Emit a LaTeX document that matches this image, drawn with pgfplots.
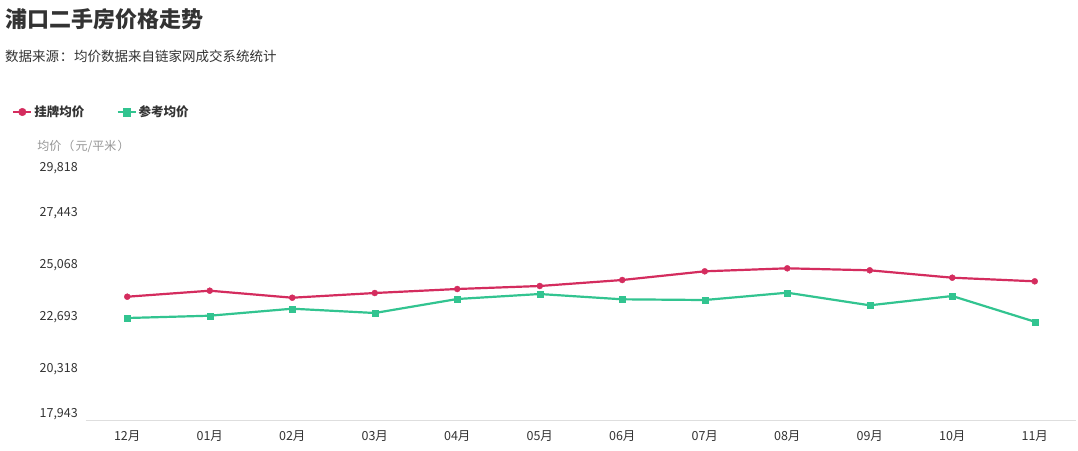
\documentclass[border=0pt]{standalone}
\usepackage{fontspec}
\setmainfont{Noto Sans CJK SC}
\usepackage{pgfplots}
\usepackage{pgfplotstable}
\pgfplotsset{compat=1.18}

\definecolor{cred}{RGB}{212,44,94}
\definecolor{cgreen}{RGB}{50,196,144}
\definecolor{ctext}{RGB}{51,51,51}
\definecolor{cgray}{RGB}{150,150,150}
\definecolor{caxis}{RGB}{222,222,222}

% month index, listing price, reference price
\pgfplotstableread{
m list ref
0  23574 22601
1  23848 22706
2  23528 23026
3  23743 22830
4  23926 23469
5  24063 23697
6  24337 23455
7  24734 23423
8  24871 23757
9  24780 23181
10 24442 23606
11 24277 22432
}\pricedata

\begin{document}
\begin{tikzpicture}[x=1pt,y=1pt]
  \useasboundingbox[fill=white] (0,0) rectangle (1078,450);

  % title and source line
  \node[anchor=west, inner sep=0pt, text=ctext,
        font=\fontsize{22}{26}\selectfont\bfseries] at (5,431) {浦口二手房价格走势};
  \node[anchor=west, inner sep=0pt, text=ctext,
        font=\fontsize{13.5}{16}\selectfont] at (5,394) {数据来源\makebox[1.1em]{：}均价数据来自链家网成交系统统计};

  \begin{axis}[
      at={(86pt,30pt)}, anchor=south west,
      scale only axis, width=990pt, height=260pt,
      xmin=-0.5, xmax=11.5, ymin=17943, ymax=29818,
      scaled y ticks=false,
      axis x line*=bottom, axis y line*=left,
      x axis line style={draw=caxis, line width=0.8pt},
      y axis line style={draw=none},
      xtick={0,...,11},
      xticklabels={12月,01月,02月,03月,04月,05月,06月,07月,08月,09月,10月,11月},
      major x tick style={draw=none},
      extra x ticks={-0.5,0.5,...,11.5},
      extra x tick labels={},
      extra x tick style={tick align=outside, major tick length=4pt,
                          tick style={draw=caxis, line width=0.6pt}},
      xticklabel style={anchor=center, yshift=-16pt, text=ctext,
                        font=\fontsize{12.5}{14}\selectfont},
      ytick={17943,20318,22693,25068,27443,29818},
      yticklabels={{\raisebox{7pt}{17,943}},{20,318},{22,693},{25,068},{27,443},{\raisebox{-7pt}{29,818}}},
      major y tick style={draw=none},
      yticklabel style={anchor=base east, inner sep=0pt, xshift=-8pt, yshift=-4.4pt,
                        text=ctext, font=\fontsize{12.5}{14}\selectfont},
      clip=false,
      legend columns=2,
      legend style={at={(axis description cs:-0.0747,1.1846)}, anchor=west,
                    draw=none, fill=none, inner sep=0pt,
                    font=\fontsize{12.5}{14}\selectfont\bfseries, text=ctext,
                    /tikz/every even column/.append style={column sep=30pt}},
      legend cell align=left,
      legend image code/.code={
        \draw[mark repeat=2, mark phase=2, #1, mark size=3.8pt]
          plot coordinates {(0pt,0pt) (9pt,0pt) (18pt,0pt)};
      },
    ]
    \addplot[cred, line width=2.2pt, mark=*, mark size=3pt,
             mark options={solid, line width=0.4pt}] table[x=m, y=list] {\pricedata};
    \addplot[cgreen, line width=2.2pt, mark=square*, mark size=3pt,
             mark options={solid, line width=0.4pt}] table[x=m, y=ref] {\pricedata};
    \legend{挂牌均价,参考均价}

    \node[text=cgray, font=\fontsize{12}{14}\selectfont, anchor=center]
      at (axis description cs:-0.002,1.051) {均价\makebox[1.2em]{（}元/平米\makebox[1.2em]{）}};
  \end{axis}
\end{tikzpicture}
\end{document}
